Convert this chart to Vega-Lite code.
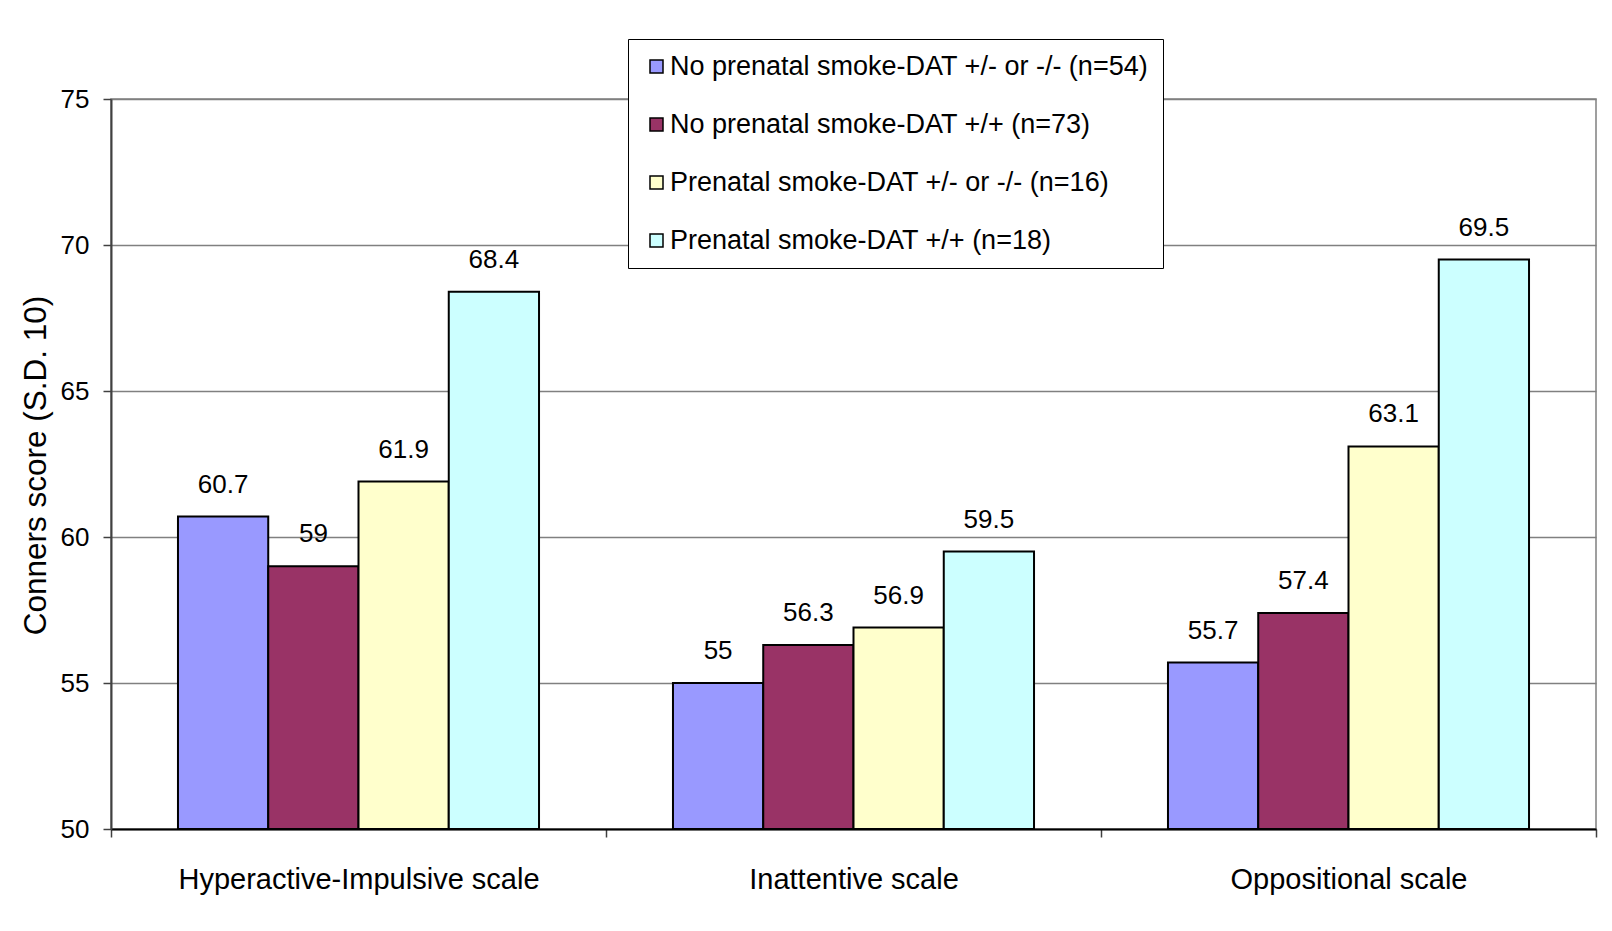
{
  "$schema": "https://vega.github.io/schema/vega-lite/v6.json",
  "width": 1485,
  "height": 730,
  "autosize": {"type": "none"},
  "padding": {"left": 111, "top": 99, "right": 16, "bottom": 102},
  "background": "white",
  "config": {
    "font": "Liberation Sans",
    "view": {"stroke": "#808080", "strokeWidth": 1.5}
  },
  "data": {
    "values": [
      {"scale": "Hyperactive-Impulsive scale", "group": "No prenatal smoke-DAT +/- or -/- (n=54)", "score": 60.7},
      {"scale": "Hyperactive-Impulsive scale", "group": "No prenatal smoke-DAT +/+ (n=73)", "score": 59},
      {"scale": "Hyperactive-Impulsive scale", "group": "Prenatal smoke-DAT +/- or -/- (n=16)", "score": 61.9},
      {"scale": "Hyperactive-Impulsive scale", "group": "Prenatal smoke-DAT +/+ (n=18)", "score": 68.4},
      {"scale": "Inattentive scale", "group": "No prenatal smoke-DAT +/- or -/- (n=54)", "score": 55},
      {"scale": "Inattentive scale", "group": "No prenatal smoke-DAT +/+ (n=73)", "score": 56.3},
      {"scale": "Inattentive scale", "group": "Prenatal smoke-DAT +/- or -/- (n=16)", "score": 56.9},
      {"scale": "Inattentive scale", "group": "Prenatal smoke-DAT +/+ (n=18)", "score": 59.5},
      {"scale": "Oppositional scale", "group": "No prenatal smoke-DAT +/- or -/- (n=54)", "score": 55.7},
      {"scale": "Oppositional scale", "group": "No prenatal smoke-DAT +/+ (n=73)", "score": 57.4},
      {"scale": "Oppositional scale", "group": "Prenatal smoke-DAT +/- or -/- (n=16)", "score": 63.1},
      {"scale": "Oppositional scale", "group": "Prenatal smoke-DAT +/+ (n=18)", "score": 69.5}
    ]
  },
  "encoding": {
    "x": {
      "field": "scale",
      "type": "nominal",
      "sort": ["Hyperactive-Impulsive scale", "Inattentive scale", "Oppositional scale"],
      "scale": {"paddingInner": 0, "paddingOuter": 0},
      "axis": {
        "title": null,
        "labelAngle": 0,
        "labelLimit": 0,
        "tickBand": "extent",
        "grid": false,
        "domainColor": "black",
        "domainWidth": 2,
        "tickColor": "#404040",
        "tickWidth": 1.5,
        "tickSize": 8,
        "labelFontSize": 29,
        "labelPadding": 28,
        "labelColor": "black"
      }
    },
    "xOffset": {
      "field": "group",
      "type": "nominal",
      "sort": [
        "No prenatal smoke-DAT +/- or -/- (n=54)",
        "No prenatal smoke-DAT +/+ (n=73)",
        "Prenatal smoke-DAT +/- or -/- (n=16)",
        "Prenatal smoke-DAT +/+ (n=18)"
      ],
      "scale": {"paddingInner": 0, "paddingOuter": 0.742}
    },
    "y": {
      "field": "score",
      "type": "quantitative",
      "scale": {"domain": [50, 75], "nice": false, "zero": false},
      "axis": {
        "title": "Conners score (S.D. 10)",
        "values": [50, 55, 60, 65, 70, 75],
        "grid": true,
        "gridColor": "#808080",
        "gridWidth": 1.5,
        "domainColor": "#404040",
        "domainWidth": 2,
        "tickColor": "#404040",
        "tickWidth": 1.5,
        "tickSize": 8,
        "labelFontSize": 26,
        "labelPadding": 14,
        "labelColor": "black",
        "titleFontSize": 31.5,
        "titleFontWeight": "normal",
        "titleColor": "black",
        "titleX": -75,
        "titleY": 366,
        "titleAlign": "center",
        "titleBaseline": "middle",
        "titleAngle": -90
      }
    }
  },
  "layer": [
    {
      "mark": {"type": "bar", "stroke": "black", "strokeWidth": 2},
      "encoding": {
        "y2": {"datum": 50},
        "color": {
          "field": "group",
          "type": "nominal",
          "scale": {
            "domain": [
              "No prenatal smoke-DAT +/- or -/- (n=54)",
              "No prenatal smoke-DAT +/+ (n=73)",
              "Prenatal smoke-DAT +/- or -/- (n=16)",
              "Prenatal smoke-DAT +/+ (n=18)"
            ],
            "range": ["#9999FF", "#993366", "#FFFFCC", "#CCFFFF"]
          },
          "legend": {
            "title": null,
            "orient": "none",
            "legendX": 517,
            "legendY": -60,
            "direction": "vertical",
            "symbolType": "square",
            "symbolSize": 169,
            "symbolStrokeColor": "black",
            "symbolStrokeWidth": 1.5,
            "symbolOffset": 1,
            "labelFontSize": 27,
            "labelColor": "black",
            "labelOffset": 0,
            "labelLimit": 0,
            "rowPadding": 30,
            "padding": 14,
            "strokeColor": "black",
            "fillColor": "white"
          }
        }
      }
    },
    {
      "mark": {"type": "text", "baseline": "alphabetic", "dy": -24, "fontSize": 26, "color": "black"},
      "encoding": {
        "text": {"field": "score", "type": "quantitative", "format": "~g"}
      }
    }
  ]
}
